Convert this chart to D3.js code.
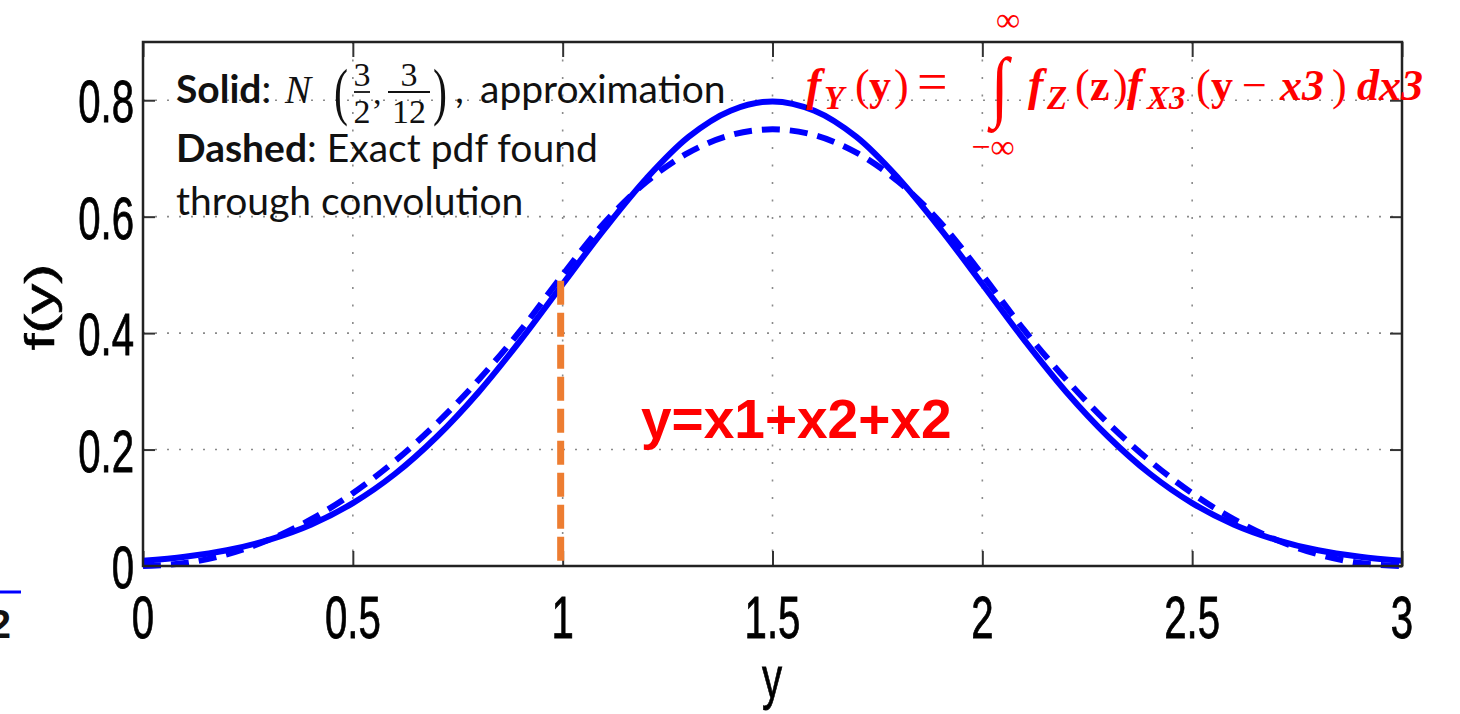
<!DOCTYPE html>
<html>
<head>
<meta charset="utf-8">
<script src="https://cdn.jsdelivr.net/npm/d3@7"></script>
<style>
  html, body { margin: 0; padding: 0; background: #fff; }
  svg { display: block; }
</style>
</head>
<body>
<script>
// ---- data -------------------------------------------------------------
// sample positions along the horizontal axis (the variable y)
const ySamples = [0, 0.1, 0.2, 0.3, 0.4, 0.5, 0.6, 0.7, 0.8, 0.9, 1.0,
                  1.1, 1.2, 1.3, 1.4, 1.5, 1.6, 1.7, 1.8, 1.9, 2.0,
                  2.1, 2.2, 2.3, 2.4, 2.5, 2.6, 2.7, 2.8, 2.9, 3.0];
// solid curve: normal approximation N(3/2, 3/12)
const approxPdf = [0.009, 0.016, 0.027, 0.045, 0.071, 0.108, 0.158, 0.222, 0.299, 0.388, 0.484,
                   0.579, 0.666, 0.737, 0.782, 0.798, 0.782, 0.737, 0.666, 0.579, 0.484,
                   0.388, 0.299, 0.222, 0.158, 0.108, 0.071, 0.045, 0.027, 0.016, 0.009];
// dashed curve: exact pdf of the sum found through convolution
const exactPdf = [0.000, 0.005, 0.020, 0.045, 0.080, 0.125, 0.180, 0.245, 0.320, 0.405, 0.500,
                  0.590, 0.660, 0.710, 0.740, 0.750, 0.740, 0.710, 0.660, 0.590, 0.500,
                  0.405, 0.320, 0.245, 0.180, 0.125, 0.080, 0.045, 0.020, 0.005, 0.000];
const xTicks = [0, 0.5, 1, 1.5, 2, 2.5, 3];
const xTickLabels = ["0", "0.5", "1", "1.5", "2", "2.5", "3"];
const yTicks = [0, 0.2, 0.4, 0.6, 0.8];
const yTickLabels = ["0", "0.2", "0.4", "0.6", "0.8"];
// vertical marker at y = 1, up to the curve
const markerAt = [1];
const markerValue = [0.49];

// ---- layout -----------------------------------------------------------
const W = 1460, H = 714;
const plot = { left: 143, right: 1402, top: 42, bottom: 566 };
const squeeze = 0.67;            // axis lettering is horizontally condensed
const axisFont = "'Liberation Sans', Arial, sans-serif";
const noteFont = "Lato, 'Open Sans', sans-serif";
const mathFont = "'Liberation Serif', 'DejaVu Serif', serif";

const svg = d3.select("body").append("svg")
  .attr("width", W).attr("height", H)
  .attr("viewBox", `0 0 ${W} ${H}`);
svg.append("rect").attr("width", W).attr("height", H).attr("fill", "#fff");

const x = d3.scaleLinear().domain([0, 3]).range([plot.left, plot.right]);
const y = d3.scaleLinear().domain([0, 0.9]).range([plot.bottom, plot.top]);

// ---- dotted grid ------------------------------------------------------
const grid = svg.append("g").attr("stroke", "#8a8a8a").attr("stroke-width", 1.6);
grid.selectAll("line.gx").data(xTicks.slice(1, -1)).join("line")
  .attr("x1", d => x(d)).attr("x2", d => x(d))
  .attr("y1", plot.top).attr("y2", plot.bottom)
  .attr("stroke-dasharray", "2,15.5");
grid.selectAll("line.gy").data(yTicks.slice(1)).join("line")
  .attr("x1", plot.left).attr("x2", plot.right)
  .attr("y1", d => y(d)).attr("y2", d => y(d))
  .attr("stroke-dasharray", "2,10");

// ---- inward ticks on all four sides -----------------------------------
function tickAxis(gen, tx, ty) {
  const g = svg.append("g").attr("transform", `translate(${tx},${ty})`).call(gen);
  g.select(".domain").remove();
  g.selectAll(".tick line").attr("stroke", "#333").attr("stroke-width", 2);
  g.selectAll(".tick text").remove();
}
tickAxis(d3.axisBottom(x).tickValues(xTicks).tickSize(-15), 0, plot.bottom);
tickAxis(d3.axisTop(x).tickValues(xTicks).tickSize(-15), 0, plot.top);
tickAxis(d3.axisLeft(y).tickValues(yTicks).tickSize(-12), plot.left, 0);
tickAxis(d3.axisRight(y).tickValues(yTicks).tickSize(-12), plot.right, 0);

// ---- curves -----------------------------------------------------------
const line = d3.line()
  .x((d, i) => x(ySamples[i]))
  .y(d => y(d))
  .curve(d3.curveCatmullRom);

svg.append("path").datum(exactPdf)
  .attr("d", line).attr("fill", "none")
  .attr("stroke", "#0000ff").attr("stroke-width", 6)
  .attr("stroke-dasharray", "18,10");
svg.append("path").datum(approxPdf)
  .attr("d", line).attr("fill", "none")
  .attr("stroke", "#0000ff").attr("stroke-width", 6);

// ---- orange marker at y = 1 ------------------------------------------
svg.selectAll("line.marker").data(markerAt).join("line")
  .attr("class", "marker")
  .attr("x1", d => x(d) - 2).attr("x2", d => x(d) - 2)
  .attr("y1", (d, i) => y(markerValue[i])).attr("y2", y(0) - 4)
  .attr("stroke", "#ed7d31").attr("stroke-width", 7)
  .attr("stroke-dasharray", "24,8");

// ---- frame ------------------------------------------------------------
svg.append("rect")
  .attr("x", plot.left).attr("y", plot.top)
  .attr("width", plot.right - plot.left).attr("height", plot.bottom - plot.top)
  .attr("fill", "none").attr("stroke", "#222").attr("stroke-width", 2.5);

// ---- tick labels (condensed) -----------------------------------------
function axisText(sel) {
  return sel.attr("font-family", axisFont).attr("font-size", 60)
    .attr("fill", "#000").attr("stroke", "#000").attr("stroke-width", 0.8);
}
axisText(svg.append("g").selectAll("text").data(xTicks).join("text")
  .attr("transform", d => `translate(${x(d)},638) scale(${squeeze},1)`)
  .attr("text-anchor", "middle"))
  .text((d, i) => xTickLabels[i]);

axisText(svg.append("g").selectAll("text").data(yTicks).join("text")
  .attr("transform", d => `translate(134,${y(d) + 22}) scale(${squeeze},1)`)
  .attr("text-anchor", "end"))
  .text((d, i) => yTickLabels[i]);

// axis titles
axisText(svg.append("text")
  .attr("transform", `translate(772,698) scale(${squeeze},1)`)
  .attr("text-anchor", "middle"))
  .text("y");
axisText(svg.append("text")
  .attr("transform", `translate(54,307) scale(${squeeze},1) rotate(-90)`)
  .attr("text-anchor", "middle"))
  .text("f(y)");

// ---- helper: stretch a glyph into a given box -------------------------
function fitInto(sel, bx, by, bw, bh) {
  const b = sel.node().getBBox();
  const sx = bw / b.width, sy = bh / b.height;
  sel.attr("transform",
    `translate(${bx - b.x * sx},${by - b.y * sy}) scale(${sx},${sy})`);
}

// ---- legend note ------------------------------------------------------
const note = svg.append("g").attr("font-family", noteFont).attr("fill", "#111");
const l1 = note.append("text").attr("x", 176).attr("y", 103).attr("font-size", 39);
l1.append("tspan").attr("font-weight", 700).text("Solid");
l1.append("tspan").text(":");
note.append("text").attr("x", 285).attr("y", 103)
  .attr("font-family", mathFont).attr("font-style", "italic").attr("font-size", 39)
  .text("N");
fitInto(note.append("text").attr("font-family", mathFont).attr("font-size", 60).text("("),
  334, 57, 14, 70);
fitInto(note.append("text").attr("font-family", mathFont).attr("font-size", 60).text(")"),
  433, 57, 14, 70);
// fractions 3/2 and 3/12
const fracs = [{ num: "3", den: "2", cx: 362, w: 16 }, { num: "3", den: "12", cx: 409, w: 42 }];
const fr = note.append("g").attr("font-family", mathFont).attr("font-size", 34).attr("text-anchor", "middle");
fracs.forEach(f => {
  fr.append("text").attr("x", f.cx).attr("y", 86).text(f.num);
  fr.append("text").attr("x", f.cx).attr("y", 123).text(f.den);
  fr.append("line").attr("x1", f.cx - f.w / 2).attr("x2", f.cx + f.w / 2)
    .attr("y1", 92).attr("y2", 92).attr("stroke", "#111").attr("stroke-width", 1.8);
});
note.append("text").attr("x", 373).attr("y", 104).attr("font-family", mathFont).attr("font-size", 34).text(",");
note.append("text").attr("x", 455).attr("y", 103).attr("font-size", 39).text(",");
note.append("text").attr("x", 480).attr("y", 103).attr("font-size", 39).text("approximation");
const l2 = note.append("text").attr("x", 176).attr("y", 162).attr("font-size", 39);
l2.append("tspan").attr("font-weight", 700).text("Dashed");
l2.append("tspan").text(": Exact pdf found");
note.append("text").attr("x", 176).attr("y", 215).attr("font-size", 39).text("through convolution");

// ---- red convolution formula -----------------------------------------
const red = "#ff0000";
const fm = svg.append("g").attr("fill", red).attr("font-family", mathFont);
function piece(xp, yp, txt, size, bold, italic) {
  return fm.append("text").attr("x", xp).attr("y", yp)
    .attr("font-size", size)
    .attr("font-weight", bold ? 700 : 400)
    .attr("font-style", italic ? "italic" : "normal")
    .text(txt);
}
piece(806, 100, "f", 46, true, true);
piece(824, 109, "Y", 33, true, true);
piece(855, 100, "(", 44, false, false);
piece(869, 100, "y", 44, true, false);
piece(894, 100, ")", 44, false, false);
piece(917, 100, "=", 54, false, false);
fitInto(fm.append("text").attr("font-size", 80).text("\u222B"), 987, 43, 26, 91);
fm.append("text").attr("x", 1008).attr("y", 31).attr("font-size", 34).attr("text-anchor", "middle").text("\u221E");
fm.append("text").attr("x", 993).attr("y", 158).attr("font-size", 34).attr("text-anchor", "middle").text("\u2212\u221E");
piece(1028, 100, "f", 46, true, true);
piece(1047, 109, "Z", 33, true, true);
piece(1075, 100, "(", 44, false, false);
piece(1090, 100, "z", 44, true, false);
piece(1113, 100, ")", 44, false, false);
piece(1127, 100, "f", 46, true, true);
piece(1147, 109, "X3", 33, true, true);
piece(1196, 100, "(", 44, false, false);
piece(1211, 100, "y", 44, true, false);
piece(1242, 100, "\u2212", 44, false, false);
piece(1280, 100, "x3", 44, true, true);
piece(1332, 100, ")", 44, false, false);
piece(1357, 100, "dx3", 44, true, true);

// ---- sum label ---------------------------------------------------------
svg.append("text").attr("x", 641).attr("y", 438)
  .attr("font-family", axisFont).attr("font-weight", 700).attr("font-size", 55)
  .attr("fill", red).text("y=x1+x2+x2");

// ---- fragment at the left edge ---------------------------------------
svg.append("line").attr("x1", 0).attr("x2", 21).attr("y1", 592).attr("y2", 592)
  .attr("stroke", "#0000ff").attr("stroke-width", 3);
svg.append("text").attr("x", 11).attr("y", 638).attr("text-anchor", "end")
  .attr("font-family", axisFont).attr("font-weight", 700).attr("font-size", 40)
  .attr("fill", "#111").text("2");
</script>
</body>
</html>
